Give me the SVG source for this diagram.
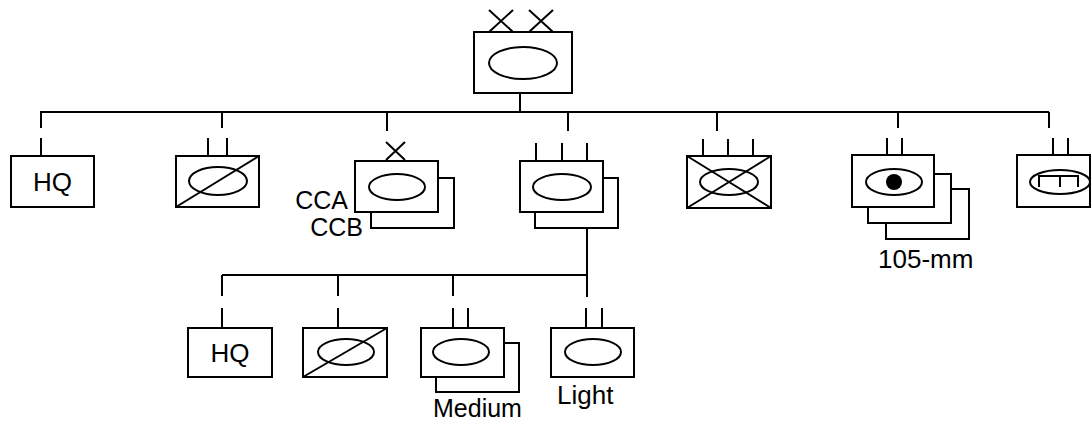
<svg xmlns="http://www.w3.org/2000/svg" width="1092" height="424" viewBox="0 0 1092 424">
<style>
.s{fill:none;stroke:#000;stroke-width:2}
.b{fill:#fff;stroke:#000;stroke-width:2}
.t{font-family:"Liberation Sans",Arial,sans-serif;font-size:26px;fill:#000}
.c{font-size:25px}
</style>
<rect width="1092" height="424" fill="#fff"/>
<g id="connectors" class="s">
<path d="M520 93V112M40 112H1049"/>
<path d="M41 112V128M41 138V156"/>
<path d="M222 112V128M208 138V156M227 138V156"/>
<path d="M387 112V131"/>
<path d="M568 112V131M536 143V161M562 143V161M587 143V161"/>
<path d="M717 112V131M703 139V156M728 139V156M753 139V156"/>
<path d="M898 112V128M887 138V155M902 138V155"/>
<path d="M1049 112V128M1053 138V155M1068 138V155"/>
<path d="M587 228V297M222 275H587"/>
<path d="M222 275V296M222 308V328"/>
<path d="M338 275V296M338 308V328"/>
<path d="M453 275V296M453 308V328M468 308V328"/>
<path d="M586 308V328M602 308V328"/>
</g>
<g id="division">
<path class="s" d="M489 10L513 32M513 10L489 32M529 10L553 32M553 10L529 32"/>
<rect class="b" x="474" y="32" width="98" height="61"/>
<ellipse class="s" cx="523" cy="63" rx="34" ry="16"/>
</g>
<g id="hq">
<rect class="b" x="11" y="156" width="83" height="51"/>
<text class="t" x="52.5" y="191" text-anchor="middle">HQ</text>
</g>
<g id="recon">
<rect class="b" x="176" y="156" width="83" height="51"/>
<ellipse class="s" cx="218" cy="181" rx="29" ry="14"/>
<path class="s" d="M176 207L259 156"/>
</g>
<g id="combat-commands">
<path class="s" d="M386 142L405 160M405 142L386 160"/>
<rect class="b" x="371" y="178" width="83" height="50"/>
<rect class="b" x="355" y="161" width="83" height="51"/>
<ellipse class="s" cx="397" cy="187" rx="28" ry="13"/>
<text class="t c" x="348" y="209" text-anchor="end">CCA</text>
<text class="t c" x="363" y="236" text-anchor="end">CCB</text>
</g>
<g id="armor-regiment">
<rect class="b" x="535" y="178" width="83" height="50"/>
<rect class="b" x="520" y="161" width="83" height="51"/>
<ellipse class="s" cx="562" cy="187" rx="29" ry="13"/>
</g>
<g id="infantry">
<rect class="b" x="687" y="156" width="84" height="52"/>
<ellipse class="s" cx="729" cy="182" rx="29" ry="13"/>
<path class="s" d="M687 156L771 208M771 156L687 208"/>
</g>
<g id="artillery">
<rect class="b" x="886" y="189" width="83" height="50"/>
<rect class="b" x="868" y="174" width="83" height="49"/>
<rect class="b" x="852" y="155" width="82" height="52"/>
<ellipse class="s" cx="894" cy="182" rx="28" ry="13"/>
<circle cx="894" cy="182" r="8" fill="#000"/>
<text class="t" x="878" y="268">105-mm</text>
</g>
<g id="engineer">
<rect class="b" x="1017" y="155" width="73" height="52"/>
<ellipse class="s" cx="1060" cy="182" rx="30" ry="12"/>
<path class="s" d="M1039 187V176H1078V187M1060 176V187"/>
</g>
<g id="hq-2">
<rect class="b" x="188" y="328" width="84" height="49"/>
<text class="t" x="230" y="362" text-anchor="middle">HQ</text>
</g>
<g id="recon-2">
<rect class="b" x="303" y="328" width="84" height="49"/>
<ellipse class="s" cx="346" cy="352" rx="28" ry="13"/>
<path class="s" d="M303 377L387 328"/>
</g>
<g id="medium">
<rect class="b" x="436" y="343" width="83" height="49"/>
<rect class="b" x="421" y="328" width="83" height="49"/>
<ellipse class="s" cx="461" cy="352" rx="28" ry="13"/>
<text class="t c" x="433" y="417">Medium</text>
</g>
<g id="light">
<rect class="b" x="551" y="328" width="83" height="49"/>
<ellipse class="s" cx="593" cy="352" rx="28" ry="13"/>
<text class="t" x="557" y="404">Light</text>
</g>
</svg>
